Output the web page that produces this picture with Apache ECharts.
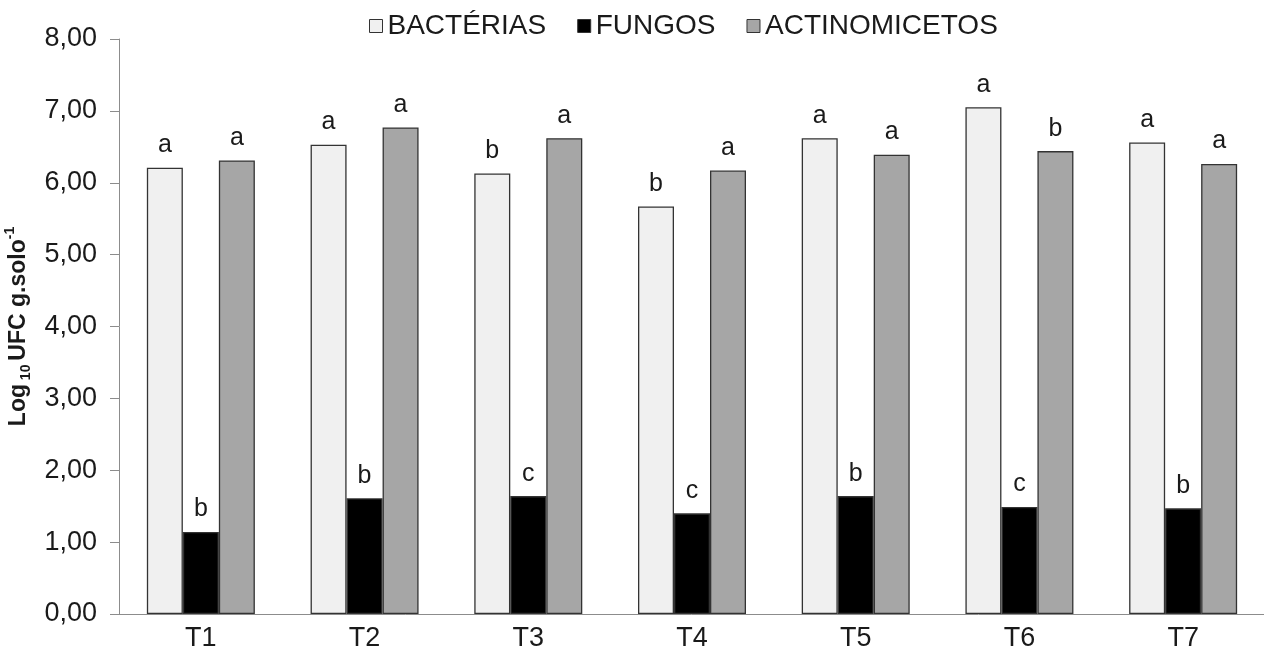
<!DOCTYPE html>
<html>
<head>
<meta charset="utf-8">
<script src="https://cdn.jsdelivr.net/npm/echarts@6/dist/echarts.min.js"></script>
<style>
  html, body { margin: 0; padding: 0; background: #ffffff; }
  #chart { width: 1264px; height: 655px; }
</style>
</head>
<body>
<div id="chart"></div>
<script>
// Treatments
const categories = ['T1', 'T2', 'T3', 'T4', 'T5', 'T6', 'T7'];

// Log10 CFU per gram of soil
const bacterias = [6.21, 6.53, 6.13, 5.67, 6.62, 7.05, 6.56];
const fungos = [1.14, 1.61, 1.64, 1.40, 1.64, 1.49, 1.47];
const actinomicetos = [6.31, 6.77, 6.62, 6.17, 6.39, 6.44, 6.26];

// Mean comparison letters
const letrasBacterias = ['a', 'a', 'b', 'b', 'a', 'a', 'a'];
const letrasFungos = ['b', 'b', 'c', 'c', 'b', 'c', 'b'];
const letrasActinomicetos = ['a', 'a', 'a', 'a', 'a', 'b', 'a'];

const yTicks = { min: 0, max: 8, interval: 1 };

const FONT = 'Arial, "Liberation Sans", sans-serif';
const TEXT = '#1a1a1a';
const AXIS = '#8c8c8c';

function barSeries(name, data, letters, color) {
  return {
    name: name,
    type: 'bar',
    data: data,
    barWidth: 36,
    barGap: '0%',
    itemStyle: { color: color, borderColor: '#333333', borderWidth: 1.3 },
    label: {
      show: true,
      position: 'top',
      distance: 10,
      formatter: p => letters[p.dataIndex],
      fontFamily: FONT,
      fontSize: 25,
      color: TEXT
    }
  };
}

const chart = echarts.init(document.getElementById('chart'), null, { renderer: 'canvas' });

chart.setOption({
  animation: false,
  backgroundColor: '#ffffff',
  legend: {
    left: 364,
    top: 7,
    icon: 'rect',
    itemWidth: 13,
    itemHeight: 13,
    itemGap: 31,
    textStyle: { fontFamily: FONT, fontSize: 28, color: TEXT },
    itemStyle: { borderColor: '#333333', borderWidth: 1 },
    data: ['BACTÉRIAS', 'FUNGOS', 'ACTINOMICETOS']
  },
  grid: { left: 119, top: 39, width: 1146, bottom: 41, containLabel: false, outerBoundsMode: 'none' },
  xAxis: {
    type: 'category',
    data: categories,
    axisLine: { lineStyle: { color: AXIS, width: 1 } },
    axisTick: { alignWithLabel: true, length: 6, lineStyle: { color: AXIS } },
    axisLabel: { margin: 11, fontFamily: FONT, fontSize: 27, color: TEXT }
  },
  yAxis: {
    type: 'value',
    min: yTicks.min,
    max: yTicks.max,
    interval: yTicks.interval,
    splitLine: { show: false },
    axisLine: { show: true, lineStyle: { color: AXIS, width: 1 } },
    axisTick: { show: true, length: 9, lineStyle: { color: AXIS } },
    axisLabel: {
      margin: 22,
      fontFamily: FONT,
      fontSize: 27,
      color: TEXT,
      formatter: v => v.toFixed(2).replace('.', ',')
    },
    name: '{b|Log}{s| 10 }{b|UFC g.solo}{p|-1}',
    nameLocation: 'middle',
    nameRotate: 90,
    nameGap: 77,
    nameTextStyle: {
      rich: {
        b: { fontFamily: FONT, fontSize: 23, fontWeight: 'bold', color: TEXT, lineHeight: 30 },
        s: { fontFamily: FONT, fontSize: 14, fontWeight: 'bold', color: TEXT, lineHeight: 16, verticalAlign: 'bottom' },
        p: { fontFamily: FONT, fontSize: 14, fontWeight: 'bold', color: TEXT, lineHeight: 16, verticalAlign: 'top' }
      }
    }
  },
  series: [
    barSeries('BACTÉRIAS', bacterias, letrasBacterias, '#f0f0f0'),
    barSeries('FUNGOS', fungos, letrasFungos, '#000000'),
    barSeries('ACTINOMICETOS', actinomicetos, letrasActinomicetos, '#a6a6a6')
  ]
});
</script>
</body>
</html>
